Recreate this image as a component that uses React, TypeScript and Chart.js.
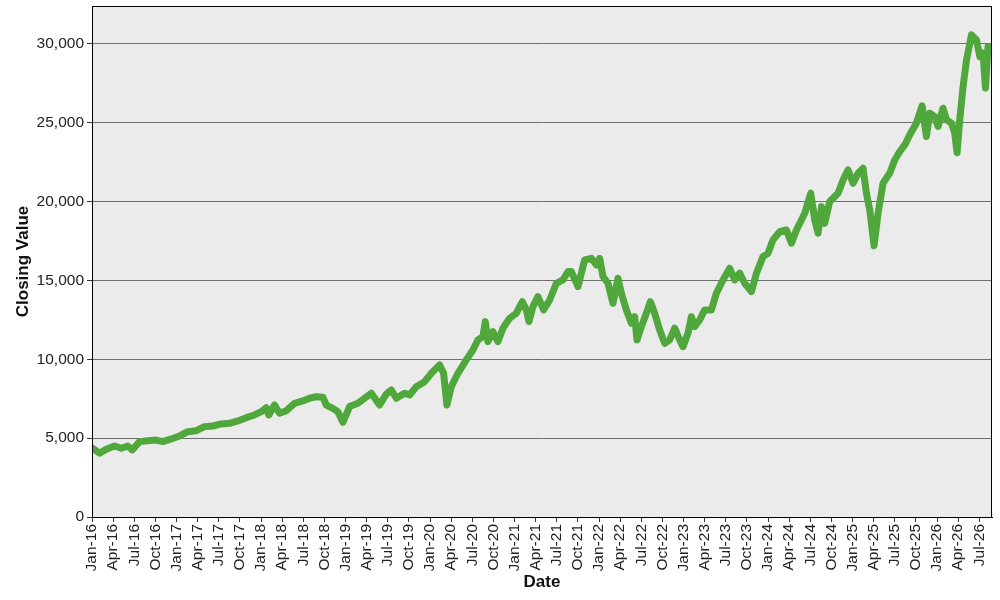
import React, { useEffect, useRef } from "react";
import { Chart, registerables } from "chart.js";

Chart.register(...registerables);

// x positions in months since Jan 2016, y closing values
const monthPos = [
  0.1, 1.07, 2.02, 3.2, 4.15, 5.09, 5.71, 6.75, 7.93, 9.12, 10.06, 11.25, 12.43, 13.61, 14.8,
  15.98, 17.16, 18.35, 19.53, 20.71, 21.9, 23.08, 24.03, 24.74, 25.11, 25.92, 26.63, 27.59,
  28.76, 29.94, 30.89, 31.85, 32.78, 33.27, 34.2, 34.91, 35.63, 36.58, 37.76, 38.71, 39.66,
  40.84, 41.79, 42.5, 43.21, 44.39, 45.1, 46.05, 47.23, 48.18, 49.36, 49.93, 50.4, 51.02,
  51.96, 53.15, 54.09, 54.8, 55.51, 55.85, 56.22, 56.93, 57.64, 58.35, 59.3, 60.26, 61.11,
  61.68, 62.05, 62.61, 63.32, 64.13, 64.99, 65.94, 66.87, 67.59, 68.07, 69.01, 69.96, 70.91,
  71.62, 72.09, 72.56, 73.27, 73.98, 74.69, 75.17, 75.88, 76.59, 77.06, 77.39, 78.01, 78.72,
  79.29, 79.9, 80.61, 81.32, 82.03, 82.74, 83.45, 83.92, 84.63, 85.11, 85.58, 86.29, 87.0,
  87.95, 88.66, 89.6, 90.55, 91.26, 91.97, 92.68, 93.64, 94.35, 95.28, 95.99, 96.7, 97.66,
  98.61, 99.32, 100.03, 101.21, 102.06, 102.63, 103.1, 103.58, 104.05, 104.76, 105.94,
  106.65, 107.36, 108.07, 108.78, 109.49, 109.97, 110.44, 111.05, 111.62, 112.33, 113.28,
  113.99, 114.7, 115.41, 116.12, 117.07, 117.87, 118.49, 118.96, 119.67, 120.14, 120.85,
  121.34, 122.05, 122.51, 122.84, 123.22, 123.69, 124.18, 124.89, 125.6, 126.07, 126.53,
  126.87, 127.24, 127.73,
];

const closing = [
  4360, 4040, 4290, 4500, 4360, 4500, 4250, 4780, 4840, 4880, 4780, 4950, 5140, 5410, 5470,
  5730, 5770, 5900, 5940, 6090, 6300, 6470, 6680, 6930, 6470, 7100, 6580, 6740,
  7210, 7360, 7530, 7630, 7590, 7100, 6890, 6680, 6000, 7000, 7210, 7530, 7850,
  7100, 7800, 8050, 7530, 7850, 7740, 8260, 8580, 9110, 9640, 9110, 7100, 8260,
  9110, 9960, 10590, 11230, 11440, 12390, 11120, 11750, 11120, 11970, 12600, 12920, 13650,
  13130, 12390, 13340, 13970, 13130, 13760, 14820, 15030, 15560, 15560, 14610, 16300, 16400,
  15980, 16400, 15240, 14820, 13550, 15140, 14190, 13130, 12280, 12700, 11230, 12070, 12920,
  13650, 12920, 11860, 11010, 11230, 11970, 11230, 10800, 11650, 12700, 12070, 12490, 13130,
  13130, 14190, 15030, 15770, 15030, 15460, 14820, 14290, 15460, 16510, 16720, 17570, 18090,
  18200, 17360, 18200, 19260, 20530, 18840, 17990, 19680, 18620, 20000, 20530,
  21370, 22010, 21160, 21800, 22110, 20530, 19470, 17200, 19260, 21160, 21800,
  22640, 23170, 23590, 24230, 24970, 26070, 24120, 25600, 25390, 24760, 25920,
  25180, 24970, 24330, 23100, 25180, 27290, 28980, 30570, 30250, 29190, 29400,
  27200, 29830, 29620,
];

const tickLabels = [
  "Jan-16", "Apr-16", "Jul-16", "Oct-16", "Jan-17", "Apr-17", "Jul-17", "Oct-17",
  "Jan-18", "Apr-18", "Jul-18", "Oct-18", "Jan-19", "Apr-19", "Jul-19", "Oct-19",
  "Jan-20", "Apr-20", "Jul-20", "Oct-20", "Jan-21", "Apr-21", "Jul-21", "Oct-21",
  "Jan-22", "Apr-22", "Jul-22", "Oct-22", "Jan-23", "Apr-23", "Jul-23", "Oct-23",
  "Jan-24", "Apr-24", "Jul-24", "Oct-24", "Jan-25", "Apr-25", "Jul-25", "Oct-25",
  "Jan-26", "Apr-26", "Jul-26",
];

const yTickValues = [0, 5000, 10000, 15000, 20000, 25000, 30000];

const FONT = "'Liberation Sans', Arial, sans-serif";

const plotBg = {
  id: "plotBg",
  beforeDraw(chart: any) {
    const { ctx, chartArea } = chart;
    if (!chartArea) return;
    ctx.save();
    ctx.fillStyle = "#EBEBEB";
    ctx.fillRect(chartArea.left, chartArea.top, chartArea.right - chartArea.left, chartArea.bottom - chartArea.top);
    ctx.restore();
  },
  afterDraw(chart: any) {
    const { ctx, chartArea } = chart;
    if (!chartArea) return;
    ctx.save();
    ctx.strokeStyle = "#000";
    ctx.lineWidth = 1;
    ctx.strokeRect(
      Math.round(chartArea.left) + 0.5,
      Math.round(chartArea.top) + 0.5,
      Math.round(chartArea.right - chartArea.left) - 1,
      Math.round(chartArea.bottom - chartArea.top)
    );
    ctx.restore();
  },
};

export default function App() {
  const canvasRef = useRef<HTMLCanvasElement | null>(null);

  useEffect(() => {
    document.body.style.margin = "0";
    if (!canvasRef.current) return;
    const points = monthPos.map((m, i) => ({ x: m, y: closing[i] }));
    const chart = new Chart(canvasRef.current, {
      type: "line",
      data: {
        datasets: [
          {
            data: points,
            borderColor: "#50A83C",
            borderWidth: 7,
            pointRadius: 0,
            tension: 0,
            borderJoinStyle: "round",
            borderCapStyle: "round",
            fill: false,
          },
        ],
      },
      options: {
        animation: false,
        responsive: false,
        devicePixelRatio: 1,
        layout: { padding: { top: 6, right: 8, left: 0, bottom: 0 } },
        plugins: { legend: { display: false }, tooltip: { enabled: false } },
        scales: {
          x: {
            type: "linear",
            min: 0,
            max: 127.8,
            afterFit(scale: any) {
              scale.height = 83;
              scale.paddingLeft = 0;
              scale.paddingRight = 0;
            },
            afterBuildTicks(scale: any) {
              scale.ticks = tickLabels.map((_, i) => ({ value: i * 3 }));
            },
            ticks: {
              autoSkip: false,
              minRotation: 90,
              maxRotation: 90,
              padding: 2,
              color: "#222",
              font: { family: FONT, size: 15.5 },
              callback: (v: any) => tickLabels[Math.round(Number(v) / 3)] ?? "",
            },
            grid: {
              display: true,
              drawOnChartArea: false,
              drawTicks: true,
              tickLength: 5,
              tickColor: "#333",
            },
            border: { display: true, color: "#000", width: 1 },
            title: {
              display: true,
              text: "Date",
              color: "#111",
              font: { family: FONT, size: 17, weight: "bold" },
              padding: { top: 0, bottom: 7 },
            },
          },
          y: {
            min: 0,
            max: 32400,
            afterFit(scale: any) {
              scale.width = 92;
              scale.paddingTop = 0;
              scale.paddingBottom = 0;
            },
            afterBuildTicks(scale: any) {
              scale.ticks = yTickValues.map((v) => ({ value: v }));
            },
            ticks: {
              padding: 3,
              color: "#222",
              font: { family: FONT, size: 15.5 },
              callback: (v: any) => Number(v).toLocaleString("en-US"),
            },
            grid: {
              color: "#6E6E6E",
              lineWidth: 1,
              drawTicks: true,
              tickLength: 5,
              tickColor: "#333",
            },
            border: { display: true, color: "#000", width: 1 },
            title: {
              display: true,
              text: "Closing Value",
              color: "#111",
              font: { family: FONT, size: 17, weight: "bold" },
              padding: { top: 13, bottom: 0 },
            },
          },
        },
      },
      plugins: [plotBg],
    });
    return () => chart.destroy();
  }, []);

  return (
    <div style={{ position: "absolute", left: 0, top: 0, width: 1000, height: 600 }}>
      <canvas ref={canvasRef} width={1000} height={600} style={{ width: 1000, height: 600 }} />
    </div>
  );
}
